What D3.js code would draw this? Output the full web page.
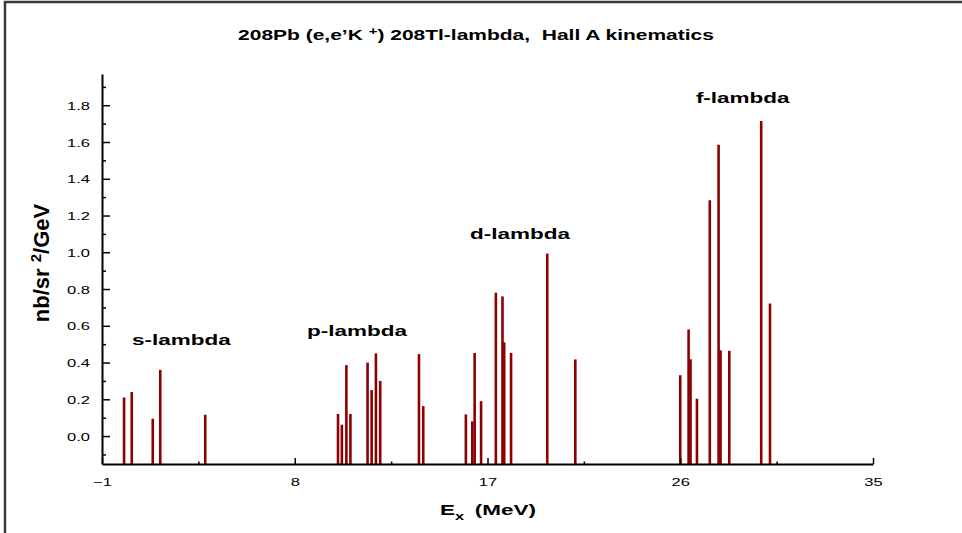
<!DOCTYPE html>
<meta charset="utf-8">
<script src="https://cdn.jsdelivr.net/npm/d3@7"></script>
<style>
body { margin: 0; background: #fff; }
svg { display: block; font-family: "Liberation Sans", Arial, sans-serif; }
.axis path { stroke: #000; stroke-width: 2px; }
.axis line { stroke: #000; stroke-width: 1.5px; }
.axis text { font-size: 11px; fill: #000; }
.bar { stroke: #8b0000; stroke-width: 2.6px; }
.frame { stroke: #3a3a3a; stroke-width: 2.5px; fill: none; }
</style>
<svg width="962" height="533"></svg>
<script>

// peak positions (MeV) and strengths (nb/sr^2/GeV)
var sEnergy = [0.03, 0.39, 1.37, 1.72, 3.82];
var sValue  = [0.21, 0.24, 0.094, 0.36, 0.116];
var pEnergy = [10.02, 10.2, 10.41, 10.6, 11.4, 11.59, 11.79, 11.99, 13.8, 14.0];
var pValue  = [0.12, 0.062, 0.386, 0.12, 0.40, 0.25, 0.45, 0.30, 0.446, 0.163];
var dEnergy = [15.99, 16.29, 16.4, 16.7, 17.39, 17.7, 17.78, 18.1, 19.79, 21.1];
var dValue  = [0.118, 0.08, 0.452, 0.19, 0.78, 0.76, 0.51, 0.452, 0.993, 0.417];
var fEnergy = [26.0, 26.39, 26.48, 26.78, 27.38, 27.79, 27.88, 28.29, 29.78, 30.19];
var fValue  = [0.331, 0.58, 0.418, 0.203, 1.283, 1.585, 0.467, 0.464, 1.714, 0.721];

var xTicks = [-1, 8, 17, 26, 35];
var xMinor = [3.5, 12.5, 21.5, 30.5];
var yTicks = [0, 0.2, 0.4, 0.6, 0.8, 1.0, 1.2, 1.4, 1.6, 1.8];
var yMinor = [-0.1, 0.1, 0.3, 0.5, 0.7, 0.9, 1.1, 1.3, 1.5, 1.7, 1.9];

// shell labels, anchored in data units (left end of text)
var shellNames = ["s-lambda", "p-lambda", "d-lambda", "f-lambda"];
var shellE = [0.4, 8.57, 16.18, 26.73];
var shellV = [0.495, 0.543, 1.07, 1.81];

// the original image is stretched sideways, text looks wide
var SX = 1.5;

var svg = d3.select("svg");

var x = d3.scaleLinear().domain([-1, 35]).range([102, 873]);
var y = d3.scaleLinear().domain([-0.152, 1.97]).range([464, 74]);

// frame around the picture (only top and left edges show)
svg.append("path").attr("class", "frame").attr("d", "M5,533V2H962");

function stretch(sel, px, py) {
  sel.attr("x", 0).attr("y", 0)
    .attr("transform", "translate(" + px + "," + py + ") scale(" + SX + ",1)");
}

// title
var title = svg.append("text")
    .attr("text-anchor", "middle")
    .style("font-size", "14px").style("font-weight", "bold");
title.append("tspan").text("208Pb (e,e\u2019K ");
title.append("tspan").attr("dy", -5).style("font-size", "10px").text("+");
title.append("tspan").attr("dy", 5).text(") 208Tl-lambda,\u00a0 Hall A kinematics");
stretch(title, 476, 40);

// bars
var peaks = [];
[[sEnergy, sValue], [pEnergy, pValue], [dEnergy, dValue], [fEnergy, fValue]].forEach(function(s) {
  s[0].forEach(function(e, i) { peaks.push({e: e, v: s[1][i]}); });
});

svg.append("g").selectAll(".bar")
    .data(peaks)
  .enter().append("line")
    .attr("class", "bar")
    .attr("x1", function(d) { return x(d.e); })
    .attr("x2", function(d) { return x(d.e); })
    .attr("y1", y(y.domain()[0]))
    .attr("y2", function(d) { return y(d.v); });

// x axis
var gx = svg.append("g").attr("class", "axis")
    .attr("transform", "translate(0," + y(y.domain()[0]) + ")")
    .call(d3.axisBottom(x).tickValues(xTicks).tickSizeInner(-6).tickSizeOuter(0)
      .tickPadding(12).tickFormat(d3.format("d")));
gx.selectAll(".tick text").each(function() {
  d3.select(this).attr("dy", null);
  stretch(d3.select(this), 0, 22);
});
svg.append("g").attr("class", "axis")
    .attr("transform", "translate(0," + y(y.domain()[0]) + ")")
    .call(d3.axisBottom(x).tickValues(xMinor).tickSizeInner(-2.5).tickSizeOuter(0).tickFormat(""))
    .select(".domain").remove();

// y axis
var gy = svg.append("g").attr("class", "axis")
    .attr("transform", "translate(" + x(-1) + ",0)")
    .call(d3.axisLeft(y).tickValues(yTicks).tickSizeInner(-8).tickSizeOuter(0)
      .tickPadding(12).tickFormat(d3.format(".1f")));
gy.selectAll(".tick text").each(function() {
  d3.select(this).attr("dy", null).attr("text-anchor", "end");
  stretch(d3.select(this), -12, 4);
});
svg.append("g").attr("class", "axis")
    .attr("transform", "translate(" + x(-1) + ",0)")
    .call(d3.axisLeft(y).tickValues(yMinor).tickSizeInner(-4).tickSizeOuter(0).tickFormat(""))
    .select(".domain").remove();

// axis titles
var xl = svg.append("text").attr("text-anchor", "middle")
    .style("font-size", "15px").style("font-weight", "bold");
xl.append("tspan").text("E");
xl.append("tspan").attr("dy", 5).style("font-size", "11px").text("x");
xl.append("tspan").attr("dy", -5).attr("dx", 7).text("(MeV)");
stretch(xl, 488, 515);

var yl = svg.append("text").attr("text-anchor", "middle")
    .style("font-size", "22px").style("font-weight", "bold");
yl.append("tspan").text("nb/sr ");
yl.append("tspan").attr("dy", -8).style("font-size", "15px").text("2");
yl.append("tspan").attr("dy", 8).text("/GeV");
yl.attr("transform", "translate(49,263) rotate(-90)");

// shell labels
svg.append("g").selectAll("text")
    .data(shellNames)
  .enter().append("text")
    .style("font-size", "15px").style("font-weight", "bold")
    .text(function(d) { return d; })
    .each(function(d, i) { stretch(d3.select(this), x(shellE[i]), y(shellV[i])); });

</script>
